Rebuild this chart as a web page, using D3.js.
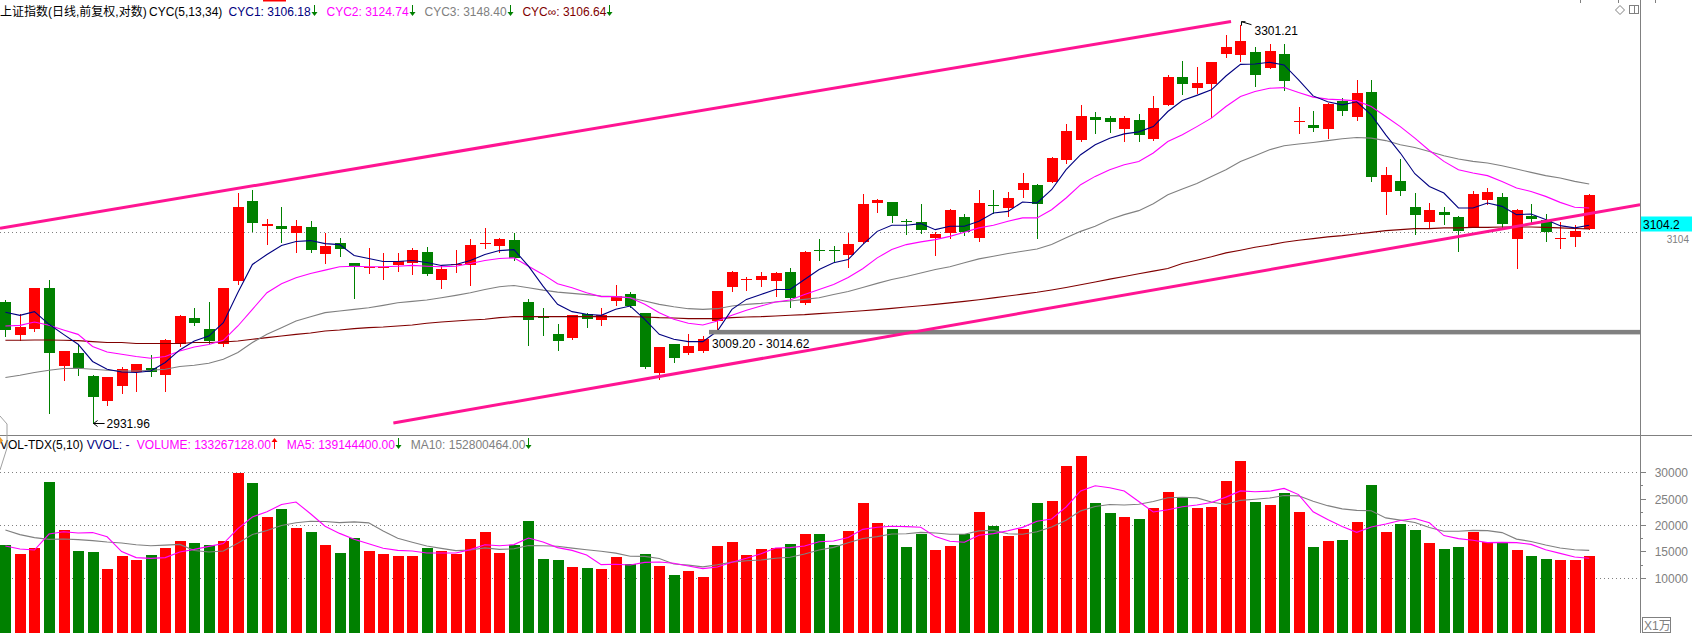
<!DOCTYPE html>
<html><head><meta charset="utf-8">
<script src="https://cdn.jsdelivr.net/npm/d3@7"></script>
<style>
html,body{margin:0;padding:0;background:#fff;overflow:hidden}
svg{display:block}
text{font-family:"Liberation Sans",Arial,"Noto Sans CJK SC",sans-serif;font-size:12px}
</style></head><body>
<svg id="c" width="1692" height="633"></svg>
<script>
// ---------- DATA ----------
const open = [3039.4,3009.8,3015.1,3052.0,2982.4,2993.7,2973.6,2951.4,2964.8,2977.5,
2980.4,2974.4,3002.4,3025.0,3015.1,3001.8,3058.4,3132.8,3109.0,3109.6,
3102.5,3108.7,3083.2,3094.0,3074.8,3071.1,3070.8,3073.0,3075.4,3085.7,
3059.6,3073.0,3073.0,3093.3,3091.2,3096.7,3039.4,3026.8,3010.6,3007.1,
3028.6,3023.2,3040.3,3046.6,3029.5,2976.2,3001.8,2993.7,2995.5,3022.3,
3052.9,3059.7,3059.3,3058.4,3066.6,3038.5,3087.5,3086.8,3083.0,3094.2,
3130.3,3131.8,3113.5,3113.3,3098.5,3103.1,3118.0,3098.5,3128.5,3126.3,
3143.0,3147.7,3150.5,3171.2,3190.0,3211.9,3211.0,3200.5,3209.1,3191.0,
3223.4,3250.2,3239.7,3243.5,3272.6,3271.6,3274.5,3258.9,3272.6,3206.7,
3204.3,3200.5,3227.2,3211.9,3235.9,3141.1,3151.5,3127.2,3113.3,3122.5,
3118.0,3108.7,3133.7,3136.5,3097.6,3118.9,3115.2,3097.4,3099.4,3106.8];
const high = [3041.2,3028.6,3052.5,3059.3,2996.0,3001.8,2974.0,2972.8,2981.9,2984.3,
2992.6,3006.8,3027.7,3034.6,3039.4,3052.6,3139.6,3142.3,3115.8,3127.2,
3115.2,3114.3,3103.1,3098.5,3075.0,3089.3,3084.8,3084.8,3089.3,3090.3,
3073.0,3087.5,3097.6,3107.8,3098.5,3103.1,3042.1,3034.0,3019.6,3028.0,
3029.5,3034.0,3055.6,3048.4,3030.0,2999.4,3002.0,3010.6,3009.2,3049.6,
3067.5,3062.0,3066.6,3066.6,3070.2,3086.0,3097.6,3091.2,3103.1,3139.3,
3134.6,3132.0,3116.1,3130.0,3104.0,3124.6,3120.7,3143.0,3143.0,3141.1,
3159.0,3148.0,3174.0,3204.7,3223.4,3216.7,3212.9,3212.9,3214.8,3232.0,
3252.2,3265.8,3259.9,3265.0,3291.1,3301.21,3279.4,3282.3,3282.3,3221.5,
3217.6,3224.8,3230.1,3247.4,3247.4,3164.6,3172.1,3140.2,3130.9,3127.2,
3118.9,3142.1,3144.9,3140.2,3124.6,3130.0,3120.7,3113.3,3110.4,3138.7];
const low = [3009.1,3005.3,3014.0,2940.7,2970.1,2974.5,2931.96,2948.1,2958.6,2960.4,
2973.1,2960.4,3000.3,3019.0,3003.3,3000.3,3055.9,3104.3,3092.4,3094.9,
3085.0,3085.0,3075.0,3081.4,3043.6,3065.7,3060.2,3067.5,3064.8,3064.0,
3052.0,3066.6,3054.7,3089.3,3085.7,3078.4,3001.2,3010.0,2996.7,3006.8,
3016.9,3018.7,3036.7,3035.5,2981.0,2970.7,2985.7,2992.8,2994.6,3014.62,
3049.3,3050.2,3053.8,3044.8,3034.9,3038.2,3078.4,3077.5,3071.1,3094.0,
3122.5,3112.7,3102.2,3103.1,3083.0,3098.5,3101.3,3095.8,3121.6,3118.9,
3136.5,3098.5,3150.3,3168.4,3189.0,3196.7,3197.6,3189.1,3189.1,3190.0,
3223.0,3233.9,3234.9,3211.9,3269.6,3265.8,3241.7,3258.5,3237.8,3196.7,
3198.1,3191.9,3213.8,3209.1,3151.5,3120.7,3138.4,3102.2,3107.8,3111.5,
3086.6,3108.5,3130.0,3106.8,3070.2,3111.5,3095.8,3089.3,3091.2,3106.5];
const close = [3014.5,3016.9,3052.0,2994.0,2995.5,2980.4,2955.1,2972.5,2979.5,2984.0,
2977.5,3005.3,3026.8,3020.8,3004.7,3052.0,3127.2,3111.8,3111.5,3106.2,
3109.6,3086.9,3091.2,3087.8,3071.8,3071.9,3071.9,3076.6,3087.5,3064.8,
3069.3,3073.9,3092.1,3094.0,3097.6,3080.2,3023.2,3025.3,3004.4,3027.7,
3024.1,3027.7,3044.8,3035.8,2981.3,2999.1,2989.3,3000.0,3006.2,3049.3,
3066.6,3060.2,3062.9,3065.7,3043.0,3085.7,3086.9,3086.3,3093.0,3130.0,
3133.7,3118.3,3113.2,3105.9,3102.2,3124.4,3104.0,3130.9,3127.6,3135.6,
3149.6,3130.0,3173.1,3198.1,3212.9,3209.1,3207.2,3211.0,3194.8,3220.5,
3250.2,3243.5,3244.5,3264.8,3279.4,3285.2,3252.2,3275.5,3246.4,3207.7,
3201.4,3224.4,3217.6,3234.9,3155.2,3157.1,3142.1,3119.8,3124.4,3119.8,
3105.0,3139.3,3141.1,3111.5,3124.4,3116.1,3104.0,3097.8,3105.0,3137.7];
// volume, unit: 万
const volume = [16203,14494,15634,28167,19052,15064,14874,11646,14115,13355,
14304,15634,16963,16583,16203,16963,29876,27977,21521,23040,
19432,18672,16203,14684,17533,15064,14494,14115,14115,15634,
15064,14494,17343,18672,14684,16203,20761,13545,13355,12026,
11836,11646,13925,12595,14494,12216,10506,11266,10127,16013,
16773,14304,15444,15634,16393,18292,18292,16203,18862,24179,
20381,19242,15824,18292,15254,16013,18292,22470,19812,17913,
19242,24179,24559,31206,33104,24179,22280,21521,21141,23230,
26268,25192,23230,23420,28357,32155,24369,23799,26078,22470,
15824,16963,17153,20571,27597,18672,20191,19052,16583,15444,
15824,18672,16773,16773,15254,14115,13545,13355,13355,14115];
const volMA5 = [16010,15440,15250,18290,18710,18480,18560,17760,14950,13810,
13660,13810,14870,15370,15940,16470,19320,21520,22510,23880,
24370,22130,19770,18410,17310,16430,15600,15180,15060,14680,
14680,14680,15330,16240,16050,16280,17530,16770,15710,15180,
14310,12480,12560,12410,12900,12980,12750,12220,11720,12030,
12940,13700,14530,15630,15710,16010,16810,16960,17610,19170,
19580,19770,19700,19580,17800,16930,16740,18060,18370,18900,
19550,20720,21140,23420,26460,27450,27070,26460,24450,22470,
22890,23470,23810,24270,25290,26470,26310,26420,26950,25770,
22510,21030,19700,18600,19620,20190,20840,21220,20420,17990,
17420,17120,16660,16700,16660,16320,15290,14610,13930,13700];
const volMA10 = [19050,18170,17600,17280,17340,17220,17030,16770,16580,16260,
16070,16190,16320,15160,14870,15060,16560,18200,18940,19910,
20420,20720,20650,20460,20590,20400,18860,17480,16740,16000,
15560,15140,15250,15650,15370,15480,16110,16050,15980,15620,
15290,15010,14670,14060,14040,13640,12610,12390,12060,12460,
12960,13220,13370,13680,13870,14480,15250,15750,16620,17440,
17800,18290,18330,18600,18480,18250,18250,18880,18980,18350,
18240,18730,19600,20890,22680,23500,23890,23800,23930,24460,
25170,25270,25140,24360,23880,24680,24890,25120,25610,25530,
24490,23670,23060,22770,22700,21350,20930,20460,19510,18810,
18810,18980,18940,18560,17320,16870,16200,15630,15310,15180];
const cyc1 = [3030.4,3027.7,3031.0,3019.6,3010.6,3001.8,2986.4,2979.5,2977.1,2976.6,
2978.0,2985.5,2996.7,3004.7,3009.1,3021.1,3048.4,3073.9,3083.0,3091.2,
3094.9,3095.8,3093.0,3092.1,3082.1,3079.3,3076.6,3076.6,3077.5,3075.7,
3073.0,3073.9,3077.5,3083.0,3086.6,3087.5,3072.3,3054.1,3037.6,3031.0,
3028.6,3027.7,3033.1,3036.1,3024.1,3010.6,3006.2,3004.1,3004.1,3013.6,
3033.1,3042.1,3046.6,3051.1,3051.1,3060.2,3069.3,3075.4,3078.4,3092.1,
3104.3,3109.9,3109.9,3111.5,3105.9,3109.0,3109.0,3113.6,3121.3,3122.8,
3131.5,3130.6,3143.0,3161.8,3175.9,3185.3,3191.6,3195.7,3197.6,3202.6,
3217.0,3227.5,3232.5,3237.8,3251.2,3262.5,3262.8,3264.5,3261.9,3247.4,
3232.0,3226.3,3223.4,3226.3,3213.8,3194.8,3177.5,3158.0,3146.1,3139.9,
3126.0,3126.0,3130.6,3127.5,3119.8,3120.4,3115.2,3109.6,3107.5,3110.0];
const cyc2 = [3018.1,3018.7,3021.7,3018.7,3014.5,3010.6,2999.7,2994.9,2992.8,2990.8,
2989.3,2990.8,2995.8,2999.3,3001.5,3005.3,3018.1,3033.1,3048.1,3056.3,
3061.7,3065.7,3068.7,3071.8,3072.3,3071.8,3071.8,3072.3,3073.0,3072.3,
3071.8,3072.3,3074.8,3077.5,3079.3,3079.9,3072.3,3064.8,3056.3,3052.6,
3048.1,3044.6,3044.6,3043.6,3037.6,3030.1,3024.1,3020.5,3019.0,3022.6,
3027.7,3032.2,3036.1,3039.7,3041.5,3046.6,3051.1,3055.6,3062.0,3069.9,
3079.9,3087.5,3092.1,3094.6,3096.7,3099.7,3103.4,3107.5,3109.9,3113.6,
3116.8,3116.8,3124.4,3135.3,3147.7,3155.5,3161.8,3166.5,3169.6,3177.5,
3188.4,3194.8,3202.6,3210.7,3221.8,3231.4,3236.2,3239.4,3240.0,3235.2,
3230.8,3228.9,3228.2,3227.2,3221.8,3212.3,3202.6,3191.6,3179.9,3169.6,
3161.8,3158.7,3156.2,3150.8,3144.6,3141.4,3136.8,3131.2,3126.6,3126.0];
const cyc3 = [2972.2,2974.2,2976.6,2978.6,2980.1,2980.4,2979.5,2978.6,2978.0,2978.0,
2978.6,2979.5,2981.9,2983.1,2984.8,2988.4,2994.4,3003.3,3010.6,3016.6,
3022.6,3026.5,3030.1,3031.6,3033.1,3034.6,3036.7,3039.1,3040.3,3041.5,
3043.6,3045.7,3048.1,3051.1,3053.6,3054.7,3052.6,3050.5,3048.7,3047.5,
3046.4,3045.1,3044.6,3043.6,3040.6,3037.6,3035.5,3033.7,3033.1,3033.7,
3036.1,3037.6,3038.5,3039.7,3040.6,3042.1,3043.6,3046.6,3049.3,3052.9,
3056.6,3060.2,3062.9,3066.1,3069.3,3071.8,3075.4,3079.0,3081.4,3083.9,
3086.0,3088.1,3092.1,3098.3,3104.3,3109.0,3115.2,3119.8,3123.5,3130.0,
3138.3,3143.6,3148.9,3155.5,3161.8,3169.6,3175.0,3180.6,3184.4,3186.0,
3187.5,3189.3,3191.0,3192.2,3191.6,3189.3,3185.3,3182.8,3179.0,3175.0,
3171.9,3169.6,3168.1,3165.5,3162.4,3159.3,3156.2,3154.0,3150.8,3148.4];
const cycInf = [3005.3,3005.3,3005.6,3005.6,3005.3,3005.0,3004.1,3003.3,3003.3,3002.4,
3002.4,3002.4,3002.4,3003.3,3003.3,3003.8,3004.7,3006.2,3007.7,3009.1,
3010.6,3011.8,3013.6,3014.5,3015.7,3016.6,3017.2,3018.1,3019.0,3020.5,
3021.7,3022.6,3023.5,3024.1,3025.6,3026.5,3026.5,3026.5,3026.5,3026.5,
3026.5,3026.5,3026.5,3026.5,3026.2,3025.6,3025.3,3024.7,3024.7,3024.7,
3025.6,3026.2,3026.5,3027.1,3027.7,3028.3,3029.2,3030.0,3030.9,3031.8,
3032.8,3034.0,3035.2,3036.4,3037.6,3038.9,3040.3,3041.8,3043.5,3045.1,
3046.9,3048.6,3050.6,3052.9,3055.4,3057.9,3060.5,3062.9,3065.4,3067.8,
3070.2,3074.8,3077.8,3080.9,3084.5,3086.9,3089.6,3091.8,3094.2,3096.1,
3097.6,3099.2,3100.4,3101.9,3103.4,3105.0,3105.9,3106.8,3106.8,3107.5,
3107.5,3108.0,3108.0,3108.4,3108.4,3108.4,3108.0,3107.5,3107.0,3106.6];
// trend channel lines (day index, price)
const trendUpper = [[-0.37,3107.1],[84.35,3304.4]];
const trendLower = [[26.7,2932.2],[112.5,3129.0]];
// price gap zone
const gapZone = {startDay:48, low:3009.20, high:3014.62};
const refPrice = 3104;
const lastPriceLabel = "3104.2";
const volTicks = [10000,15000,20000,25000,30000];
const volMinorTicks = [12500,17500,22500,27500];
const volGrid = [10000,20000,30000];
const topLegend = [
  {t:"CYC1: 3106.18", c:"#000080", x:228.6},
  {t:"CYC2: 3124.74", c:"#FF00FF", x:326.5},
  {t:"CYC3: 3148.40", c:"#808080", x:424.5},
  {t:"CYC\u221E: 3106.64", c:"#800000", x:522.4}];
const volLegend = [
  {t:"VOL-TDX(5,10)", c:"#000000", x:0, arrow:null},
  {t:"VVOL: -", c:"#000080", x:86.8, arrow:null},
  {t:"VOLUME: 133267128.00", c:"#FF00FF", x:136.8, arrow:"up"},
  {t:"MA5: 139144400.00", c:"#FF00FF", x:286.8, arrow:"down"},
  {t:"MA10: 152800464.00", c:"#808080", x:410.7, arrow:"down"}];

// ---------- LAYOUT ----------
const W=1692, H=633, plotR=1640, sepY=435;
const RED="#FF0000", GREEN="#008000", GRAY="#808080";
const n = open.length;
const days = d3.range(n);
const svg = d3.select("#c");

const x = d3.scaleLinear().domain([0, n-1]).range([5.4, 1589.2]);
const y = d3.scaleLog().domain([2931.96, 3301.21]).range([423.3, 24.7]);
const yv = d3.scaleLinear().domain([0, 30000]).range([630.4, 472.3]);

const defs = svg.append("defs");
defs.append("clipPath").attr("id","mainClip").append("rect").attr("x",0).attr("y",0).attr("width",plotR).attr("height",sepY);
defs.append("clipPath").attr("id","volClip").append("rect").attr("x",0).attr("y",sepY+1).attr("width",plotR).attr("height",H-sepY);

const main = svg.append("g").attr("clip-path","url(#mainClip)");
const vol = svg.append("g").attr("clip-path","url(#volClip)");

// dotted reference line
const ry = Math.round(y(refPrice))+0.5;
main.append("line").attr("x1",0).attr("x2",plotR).attr("y1",ry).attr("y2",ry)
  .attr("stroke",GRAY).attr("stroke-dasharray","1,3");

// candles
const isUp = i => close[i] >= open[i];
const cg = main.append("g").attr("shape-rendering","crispEdges");
days.forEach(i=>{
  const c = Math.round(x(i));
  const col = isUp(i) ? RED : GREEN;
  cg.append("line").attr("x1",c+0.5).attr("x2",c+0.5)
    .attr("y1",Math.round(y(high[i]))).attr("y2",Math.round(y(low[i]))+1)
    .attr("stroke",col).attr("stroke-width",1);
  const t = Math.round(y(Math.max(open[i],close[i])));
  const b = Math.round(y(Math.min(open[i],close[i])));
  cg.append("rect").attr("x",c-5).attr("width",11).attr("y",t).attr("height",Math.max(1,b-t)).attr("fill",col);
});

// CYC lines
const pl = d3.line().x((d,i)=>x(i)).y(d=>y(d));
[[cycInf,"#800000"],[cyc3,GRAY],[cyc2,"#FF00FF"],[cyc1,"#000080"]].forEach(([arr,col])=>{
  main.append("path").attr("d",pl(arr)).attr("fill","none").attr("stroke",col).attr("stroke-width",1.1);
});

// gap zone band
const gx = Math.round(x(gapZone.startDay))+6;
main.append("rect").attr("x",gx).attr("width",plotR-gx)
  .attr("y",y(gapZone.high)).attr("height",Math.max(4,(y(gapZone.low)-y(gapZone.high))*0.75))
  .attr("fill",GRAY);

// trend lines
[trendUpper,trendLower].forEach(tl=>{
  main.append("line").attr("x1",x(tl[0][0])).attr("y1",y(tl[0][1]))
    .attr("x2",x(tl[1][0])).attr("y2",y(tl[1][1]))
    .attr("stroke","#FF1493").attr("stroke-width",3);
});

// annotations
function leftArrow(g, x0, y0, len){
  g.append("line").attr("x1",x0).attr("y1",y0).attr("x2",x0+len).attr("y2",y0).attr("stroke","#000").attr("stroke-width",1);
  g.append("path").attr("d",`M${x0},${y0} l4,-3 M${x0},${y0} l4,3`).attr("stroke","#000").attr("fill","none");
}
// high
{
  const hi = d3.maxIndex(high), hx = x(hi), hy = y(high[hi]);
  main.append("path").attr("d",`M${hx+1},${hy-3} L${hx+11},${hy}`).attr("stroke","#000").attr("fill","none");
  main.append("path").attr("d",`M${hx+1},${hy-3} l0,4 M${hx+1},${hy-3} l4,0`).attr("stroke","#000").attr("fill","none");
  main.append("text").attr("x",hx+14).attr("y",hy+10).text(d3.format(".2f")(high[hi]));
}
// low
{
  const lo = d3.minIndex(low), lx = x(lo), ly = y(low[lo]);
  leftArrow(main, lx+1, Math.round(ly)+0.5, 11);
  main.append("text").attr("x",lx+14).attr("y",ly+5).text(d3.format(".2f")(low[lo]));
}
// gap label
main.append("text").attr("x",gx+3).attr("y",y(gapZone.low)+12)
  .text(d3.format(".2f")(gapZone.low)+" - "+d3.format(".2f")(gapZone.high));

// ---------- VOLUME PANEL ----------
volGrid.forEach(v=>{
  const yy = Math.round(yv(v))+0.5;
  vol.append("line").attr("x1",0).attr("x2",plotR).attr("y1",yy).attr("y2",yy)
    .attr("stroke",GRAY).attr("stroke-dasharray","1,3");
});
const vg = vol.append("g").attr("shape-rendering","crispEdges");
days.forEach(i=>{
  const c = Math.round(x(i));
  const t = Math.round(yv(volume[i]));
  vg.append("rect").attr("x",c-5).attr("width",11).attr("y",t).attr("height",H-t)
    .attr("fill", isUp(i)?RED:GREEN);
});
const vl = d3.line().x((d,i)=>x(i)).y(d=>yv(d));
vol.append("path").attr("d",vl(volMA10)).attr("fill","none").attr("stroke",GRAY).attr("stroke-width",1.1);
vol.append("path").attr("d",vl(volMA5)).attr("fill","none").attr("stroke","#FF00FF").attr("stroke-width",1.1);

// ---------- FRAME / AXES ----------
svg.append("line").attr("x1",plotR+0.5).attr("x2",plotR+0.5).attr("y1",0).attr("y2",H).attr("stroke",GRAY);
svg.append("line").attr("x1",0).attr("x2",W).attr("y1",sepY+0.5).attr("y2",sepY+0.5).attr("stroke",GRAY);
[1580,1618,1655].forEach(t=>svg.append("line").attr("x1",t+0.5).attr("x2",t+0.5).attr("y1",0).attr("y2",3).attr("stroke",GRAY));

// volume axis
volTicks.forEach(v=>{
  const yy = Math.round(yv(v))+0.5;
  svg.append("line").attr("x1",plotR).attr("x2",plotR+6).attr("y1",yy).attr("y2",yy).attr("stroke",GRAY);
  svg.append("text").attr("x",1688).attr("y",yy+4.5).attr("text-anchor","end").attr("fill",GRAY).text(v);
});
volMinorTicks.forEach(v=>{
  const yy = Math.round(yv(v))+0.5;
  svg.append("line").attr("x1",plotR).attr("x2",plotR+3).attr("y1",yy).attr("y2",yy).attr("stroke",GRAY);
});
svg.append("rect").attr("x",1642.5).attr("y",617.5).attr("width",28).attr("height",15).attr("fill","#fff").attr("stroke",GRAY);
svg.append("text").attr("x",1644).attr("y",630).attr("fill",GRAY).text("X1万");

// price axis: reference label (just below) and last price box
svg.append("text").attr("x",1689).attr("y",ry+10).attr("text-anchor","end").attr("fill",GRAY)
  .style("font-size","10px").text(refPrice);
svg.append("rect").attr("x",1641).attr("y",ry-16).attr("width",W-1641).attr("height",15).attr("fill","#00FFFF");
svg.append("text").attr("x",1643).attr("y",ry-3.5).attr("fill","#000").text(lastPriceLabel);

// top right icons
svg.append("path").attr("d","M1620,5.5 L1624.5,10 L1620,14.5 L1615.5,10 Z").attr("fill","none").attr("stroke",GRAY);
svg.append("rect").attr("x",1629.5).attr("y",5.5).attr("width",9).attr("height",8).attr("fill","none").attr("stroke",GRAY);
svg.append("line").attr("x1",1634.5).attr("x2",1634.5).attr("y1",5.5).attr("y2",13.5).attr("stroke",GRAY);

// red marker at top
svg.append("line").attr("x1",263).attr("x2",286).attr("y1",0.75).attr("y2",0.75).attr("stroke",RED).attr("stroke-width",1.5);

// ---------- LEGENDS ----------
function arrow(xp, top, dir, col){
  const xx = Math.round(xp)+0.5;
  if(dir==="down"){
    svg.append("line").attr("x1",xx).attr("x2",xx).attr("y1",top).attr("y2",top+8).attr("stroke",col);
    svg.append("path").attr("d",`M${xx-3},${top+7} L${xx+3},${top+7} L${xx},${top+11} Z`).attr("fill",col);
  } else {
    svg.append("line").attr("x1",xx).attr("x2",xx).attr("y1",top+3).attr("y2",top+11).attr("stroke",col);
    svg.append("path").attr("d",`M${xx-3},${top+4} L${xx+3},${top+4} L${xx},${top} Z`).attr("fill",col);
  }
}
const legY = 15.5;
svg.append("text").attr("x",0).attr("y",legY).attr("fill","#000").text("上证指数(日线,前复权,对数)");
svg.append("text").attr("x",149).attr("y",legY).attr("fill","#000").text("CYC(5,13,34)");
topLegend.forEach(d=>{
  const t = svg.append("text").attr("x",d.x).attr("y",legY).attr("fill",d.c).text(d.t);
  const w = t.node().getComputedTextLength();
  arrow(d.x+w+3, 5, "down", GREEN);
});
const vLegY = 448.5;
volLegend.forEach(d=>{
  const t = svg.append("text").attr("x",d.x).attr("y",vLegY).attr("fill",d.c).text(d.t);
  if(d.arrow){
    const w = t.node().getComputedTextLength();
    arrow(d.x+w+3, 438, d.arrow, d.arrow==="up"?RED:GREEN);
  }
});
// left edge tab
svg.append("path").attr("d","M0,416 L7,424 L7,448 L0,470").attr("fill","none").attr("stroke","#A0A0A0");
svg.append("path").attr("d","M0,437 L3,440.5 L0,444 Z").attr("fill","#E89A2C");
</script>
</body></html>
